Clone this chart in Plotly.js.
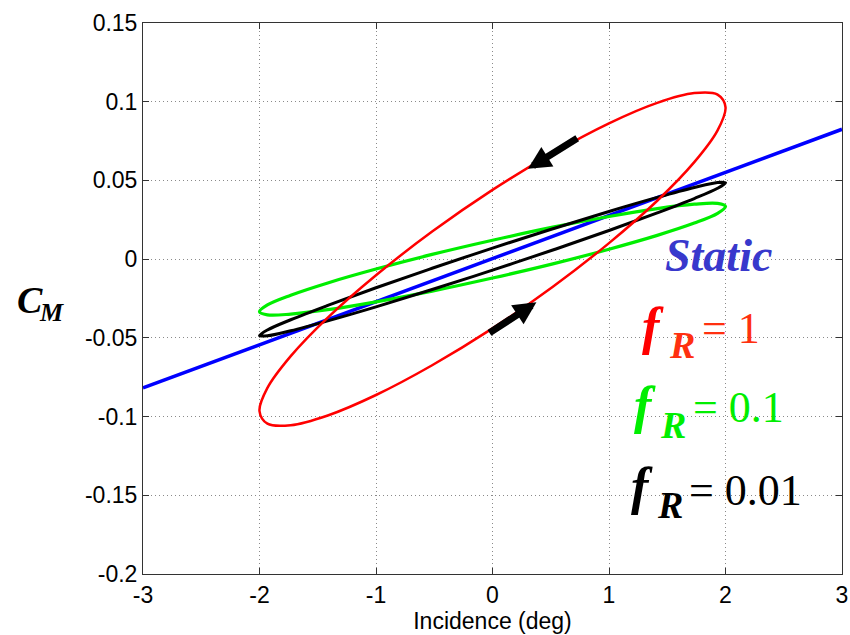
<!DOCTYPE html>
<html>
<head>
<meta charset="utf-8">
<script src="https://cdn.plot.ly/plotly-3.0.1.min.js"></script>
<style>html,body{margin:0;padding:0;background:#fff;}#chart{width:850px;height:635px;}</style>
</head>
<body>
<div id="chart"></div>
<script>
// Incidence (deg) around each hysteresis loop
const loopIncidence = [0, 0.518, 1.0, 1.414, 1.732, 1.932, 2.0, 1.932, 1.732, 1.414, 1.0, 0.518, 0,
  -0.518, -1.0, -1.414, -1.732, -1.932, -2.0, -1.932, -1.732, -1.414, -1.0, -0.518, 0];
// C_M for f_R = 1 (red)
const cmFR1 = [-0.0440, -0.0175, 0.0102, 0.0371, 0.0616, 0.0818, 0.0965, 0.1045, 0.1055, 0.0993, 0.0863, 0.0674, 0.0440,
  0.0175, -0.0102, -0.0371, -0.0616, -0.0818, -0.0965, -0.1045, -0.1055, -0.0993, -0.0863, -0.0674, -0.0440];
// C_M for f_R = 0.1 (green)
const cmFR01 = [-0.0120, -0.0030, 0.0063, 0.0151, 0.0229, 0.0291, 0.0334, 0.0354, 0.0349, 0.0321, 0.0271, 0.0203, 0.0120,
  0.0030, -0.0063, -0.0151, -0.0229, -0.0291, -0.0334, -0.0354, -0.0349, -0.0321, -0.0271, -0.0203, -0.0120];
// C_M for f_R = 0.01 (black)
const cmFR001 = [-0.0070, 0.0058, 0.0182, 0.0294, 0.0385, 0.0450, 0.0485, 0.0487, 0.0455, 0.0392, 0.0303, 0.0193, 0.0070,
  -0.0058, -0.0182, -0.0294, -0.0385, -0.0450, -0.0485, -0.0487, -0.0455, -0.0392, -0.0303, -0.0193, -0.0070];
// Static curve
const staticIncidence = [-3, 3];
const staticCm = [-0.0818, 0.0825];
// Direction arrows on the f_R = 1 loop (tail -> tip)
const arrowTailX = [0.740, -0.039];
const arrowTailY = [0.0774, -0.0475];
const arrowTipX = [0.305, 0.377];
const arrowTipY = [0.0574, -0.0274];
// Ticks
const xTickVals = [-3, -2, -1, 0, 1, 2, 3];
const xTickText = ['-3', '-2', '-1', '0', '1', '2', '3'];
const yTickVals = [-0.2, -0.15, -0.1, -0.05, 0, 0.05, 0.1, 0.15];
const yTickText = ['-0.2', '-0.15', '-0.1', '-0.05', '0', '0.05', '0.1', '0.15'];
// Labels
const rowValues = ['= 1', '= 0.1', '= 0.01'];
const rowColors = ['#ff0000', '#00ee00', '#000000'];
const rowSubColors = ['#ff3010', '#00ee00', '#000000'];

const traces = [
  {x: staticIncidence, y: staticCm, mode: 'lines', line: {color: '#0000ff', width: 3.5}, hoverinfo: 'skip'},
  {x: loopIncidence, y: cmFR01, mode: 'lines', line: {color: '#00ee00', width: 3.2, shape: 'spline'}, hoverinfo: 'skip'},
  {x: loopIncidence, y: cmFR001, mode: 'lines', line: {color: '#000000', width: 3, shape: 'spline'}, hoverinfo: 'skip'},
  {x: loopIncidence, y: cmFR1, mode: 'lines', line: {color: '#ff0000', width: 2.5, shape: 'spline'}, hoverinfo: 'skip'}
];

const serif = '"Liberation Serif", "Times New Roman", serif';
const ann = [];
for (let i = 0; i < arrowTipX.length; i++) {
  ann.push({x: arrowTipX[i], y: arrowTipY[i], ax: arrowTailX[i], ay: arrowTailY[i],
    xref: 'x', yref: 'y', axref: 'x', ayref: 'y', text: '', showarrow: true,
    arrowhead: 2, arrowwidth: 7, arrowsize: 0.65, arrowcolor: '#000', standoff: 0});
}
ann.push({x: 1.942, y: 0.0026, xref: 'x', yref: 'y', text: '<b><i>Static</i></b>', showarrow: false,
  xanchor: 'center', yanchor: 'middle', font: {family: serif, size: 46, color: '#3838cc'}});
const rowFX = [1.27, 1.20, 1.175], rowFY = [-0.0425, -0.0927, -0.1441];
const rowRX = [1.495, 1.418, 1.392], rowRY = [-0.0544, -0.1052, -0.1560];
const rowVX = [1.779, 1.701, 1.667], rowVY = [-0.0442, -0.0944, -0.1471];
for (let i = 0; i < 3; i++) {
  ann.push({x: rowFX[i], y: rowFY[i], xref: 'x', yref: 'y', text: '<b><i>f</i></b>', showarrow: false,
    xanchor: 'left', yanchor: 'middle', font: {family: serif, size: 52, color: rowColors[i]}});
  ann.push({x: rowRX[i], y: rowRY[i], xref: 'x', yref: 'y', text: '<b><i>R</i></b>', showarrow: false,
    xanchor: 'left', yanchor: 'middle', font: {family: serif, size: 38, color: rowSubColors[i]}});
  ann.push({x: rowVX[i], y: rowVY[i], xref: 'x', yref: 'y', text: rowValues[i], showarrow: false,
    xanchor: 'left', yanchor: 'middle', font: {family: serif, size: 44, color: rowSubColors[i]}});
}
ann.push({x: -0.1831, y: 0.4973, xref: 'paper', yref: 'paper', text: '<b><i>C</i></b>', showarrow: false,
  xanchor: 'left', yanchor: 'middle', font: {family: serif, size: 38, color: '#000'}});
ann.push({x: -0.1516, y: 0.4737, xref: 'paper', yref: 'paper', text: '<b><i>M</i></b>', showarrow: false,
  xanchor: 'left', yanchor: 'middle', font: {family: serif, size: 26, color: '#000'}});

const axisCommon = {
  showline: true, linecolor: '#333', linewidth: 1, mirror: 'ticks',
  ticks: 'inside', ticklen: 6, tickwidth: 1, tickcolor: '#333',
  showgrid: true, gridcolor: '#8a8a8a', griddash: '1px,3px', gridwidth: 1,
  zeroline: false, fixedrange: true,
  tickfont: {family: '"Liberation Sans", Arial, sans-serif', size: 23, color: '#000'}
};

const layout = {
  width: 850, height: 635,
  margin: {l: 143, r: 8, t: 23, b: 61, pad: 0},
  paper_bgcolor: '#fff', plot_bgcolor: '#fff',
  showlegend: false,
  xaxis: Object.assign({}, axisCommon, {range: [-3, 3], tickmode: 'array', tickvals: xTickVals, ticktext: xTickText,
    title: {text: 'Incidence (deg)', font: {family: '"Liberation Sans", Arial, sans-serif', size: 23, color: '#000'}, standoff: 4}}),
  yaxis: Object.assign({}, axisCommon, {range: [-0.2, 0.15], tickmode: 'array', tickvals: yTickVals, ticktext: yTickText}),
  annotations: ann
};

Plotly.newPlot('chart', traces, layout, {staticPlot: true, displayModeBar: false});
</script>
</body>
</html>
